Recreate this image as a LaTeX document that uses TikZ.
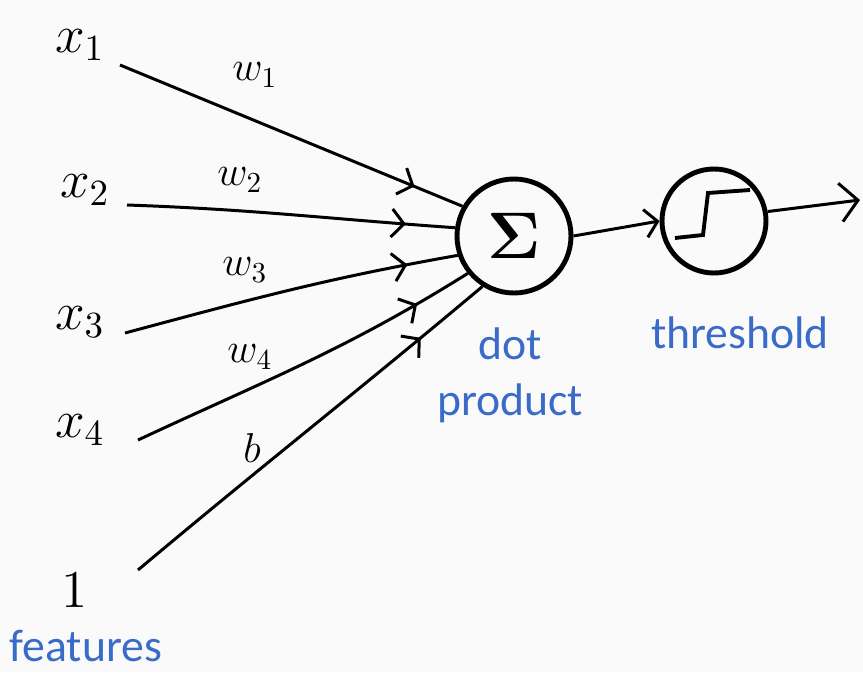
\documentclass[tikz,border=0pt]{standalone}
\usepackage{amsmath}
\usepackage{fontspec}
\newfontfamily\labelfont{Carlito}
\usetikzlibrary{arrows.meta,decorations.markings}
\definecolor{labelblue}{RGB}{58,107,200}

\begin{document}
\begin{tikzpicture}[
    line width=1.7pt,
    neuron/.style={draw,circle,line width=2.8pt,inner sep=0pt},
    inlabel/.style={font=\Large,scale=2.1},
    wlabel/.style={font=\Large,scale=1.65},
    bluelabel/.style={text=labelblue,align=center,inner sep=1pt,font=\labelfont\fontsize{26}{32}\selectfont},
    barb/.style={postaction={decorate},decoration={markings,
      mark=at position #1 with {\arrow{Straight Barb[length=7pt,width=16pt,line width=1.7pt]}}}}
  ]

\fill[gray!4] (0,0) rectangle (17.26,13.44);
\useasboundingbox (0,0) rectangle (17.26,13.44);

\node[inlabel] (x1) at (1.6,12.54) {$x_1$};
\node[inlabel] (x2) at (1.7,9.64) {$x_2$};
\node[inlabel] (x3) at (1.6,7.0) {$x_3$};
\node[inlabel] (x4) at (1.6,4.84) {$x_4$};
\node[inlabel] (one) at (1.5,1.64) {$1$};
\node[bluelabel] (features) at (1.72,0.52) {features};

\coordinate (s1) at (2.4,12.14);
\coordinate (s2) at (2.54,9.34);
\coordinate (s3) at (2.5,6.78);
\coordinate (s4) at (2.76,4.64);
\coordinate (s5) at (2.76,2.04);

\node[neuron,minimum size=2.28cm] (sum) at (10.28,8.72) {};
\node[font=\Large,scale=2.6] (sigma) at (sum.center) {$\boldsymbol{\Sigma}$};
\node[neuron,minimum size=2.08cm] (thr) at (14.28,9.02) {};
\coordinate (out) at (17.2,9.44);

\draw[line width=2.2pt] ([shift={(-0.78,-0.34)}]thr.center) -- ([shift={(-0.22,-0.28)}]thr.center)
  -- ([shift={(-0.12,0.56)}]thr.center) -- ([shift={(0.72,0.62)}]thr.center);

\draw[barb=0.86] (s1) -- (sum.150);
\draw[barb=0.85] (s2) to[out=-2,in=176] (sum.172);
\draw[barb=0.85] (s3) to[out=15,in=190] (sum.199);
\draw[barb=0.84] (s4) to[out=25,in=212] (sum.219);
\draw[barb=0.82] (s5) to[out=40,in=220] (sum.238);

\draw[-{Straight Barb[length=7pt,width=16pt]}] (sum.east) -- (thr.west);
\draw[-{Straight Barb[length=10pt,width=22pt]}] (thr.10) -- (out);

\node[wlabel] (w1) at (5.1,11.94) {$w_1$};
\node[wlabel] (w2) at (4.8,9.84) {$w_2$};
\node[wlabel] (w3) at (4.9,8.04) {$w_3$};
\node[wlabel] (w4) at (5.0,6.3) {$w_4$};
\node[wlabel] (b) at (5.04,4.48) {$b$};

\node[bluelabel] (dot) at (10.2,5.94) {dot\\product};
\node[bluelabel] (threshold) at (14.8,6.78) {threshold};

\end{tikzpicture}
\end{document}
